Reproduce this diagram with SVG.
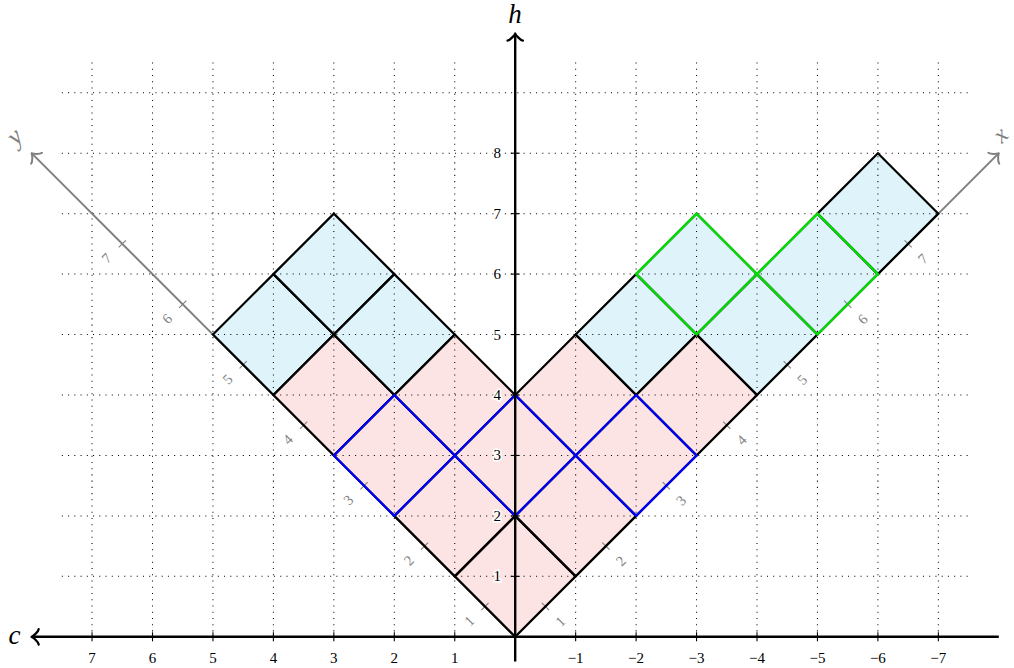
<svg xmlns="http://www.w3.org/2000/svg" width="1014" height="668" viewBox="0 0 1014 668">
<defs>
<style>
.grid line{stroke:#000;stroke-width:1.04;stroke-dasharray:1.04 5.2;fill:none}
.pink{fill:#FDE4E4;stroke:none}
.lblue{fill:#DFF3FA;stroke:none}
.edge polygon{fill:none;stroke:#000;stroke-width:2.2;stroke-linejoin:miter}
.blue polygon{fill:none;stroke:#0000FF;stroke-width:2.2;stroke-linejoin:miter}
.green polygon{fill:none;stroke:#00E400;stroke-width:2.2;stroke-linejoin:miter}
.axis{stroke:#000;stroke-width:2.4;fill:none}
.gaxis{stroke:#808080;stroke-width:2;fill:none}
.tick line{stroke:#000;stroke-width:1.1}
.gtick line{stroke:#808080;stroke-width:1.1}
.num{font-family:'Liberation Serif',serif;font-size:15px;fill:#000;text-anchor:middle}
.hnum{font-family:'Liberation Serif',serif;font-size:15px;fill:#000;text-anchor:end;stroke:#fff;stroke-width:3;paint-order:stroke fill}
.gnum{font-family:'Liberation Serif',serif;font-size:14.5px;fill:#808080;text-anchor:middle}
.lab{font-family:'Liberation Serif',serif;font-style:italic;font-size:27px;text-anchor:middle;fill:#000}
.glab{font-family:'Liberation Serif',serif;font-style:italic;font-size:26px;text-anchor:middle;fill:#808080}
</style>
<marker id="arrK" markerUnits="userSpaceOnUse" markerWidth="24" markerHeight="24" refX="-1" refY="0" orient="auto" overflow="visible">
<path d="M-7.1,-7.7 C-6.65,-4.75 -1.42,-0.48 0,0 C-1.42,0.48 -6.65,4.75 -7.1,7.7" fill="none" stroke="#000" stroke-width="2.3" stroke-linecap="round" stroke-linejoin="round"/>
</marker>
<marker id="arrG" markerUnits="userSpaceOnUse" markerWidth="24" markerHeight="24" refX="-1" refY="0" orient="auto" overflow="visible">
<path d="M-7.1,-7.7 C-6.65,-4.75 -1.42,-0.48 0,0 C-1.42,0.48 -6.65,4.75 -7.1,7.7" fill="none" stroke="#808080" stroke-width="2" stroke-linecap="round" stroke-linejoin="round"/>
</marker>
</defs>
<rect x="0" y="0" width="1014" height="668" fill="#fff"/>

<g id="fills">
<polygon class="pink" points="515.2,636.8 757,395 696.55,334.55 636.1,395 575.65,334.55 515.2,395 454.75,334.55 394.3,395 333.85,334.55 273.4,395"/>
<polygon class="lblue" points="212.95,334.55 273.4,395 333.85,334.55 394.3,395 454.75,334.55 394.3,274.1 333.85,213.65 273.4,274.1"/>
<polygon class="lblue" points="575.65,334.55 636.1,395 696.55,334.55 757,395 817.45,334.55 877.9,274.1 938.35,213.65 877.9,153.2 817.45,213.65 757,274.1 696.55,213.65 636.1,274.1"/>
</g>

<g id="grid" class="grid">
<line x1="92.05" y1="62.53" x2="92.05" y2="636.8"/>
<line x1="152.5" y1="62.53" x2="152.5" y2="636.8"/>
<line x1="212.95" y1="62.53" x2="212.95" y2="636.8"/>
<line x1="273.4" y1="62.53" x2="273.4" y2="636.8"/>
<line x1="333.85" y1="62.53" x2="333.85" y2="636.8"/>
<line x1="394.3" y1="62.53" x2="394.3" y2="636.8"/>
<line x1="454.75" y1="62.53" x2="454.75" y2="636.8"/>
<line x1="575.65" y1="62.53" x2="575.65" y2="636.8"/>
<line x1="636.1" y1="62.53" x2="636.1" y2="636.8"/>
<line x1="696.55" y1="62.53" x2="696.55" y2="636.8"/>
<line x1="757" y1="62.53" x2="757" y2="636.8"/>
<line x1="817.45" y1="62.53" x2="817.45" y2="636.8"/>
<line x1="877.9" y1="62.53" x2="877.9" y2="636.8"/>
<line x1="938.35" y1="62.53" x2="938.35" y2="636.8"/>
<line x1="61.83" y1="576.35" x2="968.58" y2="576.35"/>
<line x1="61.83" y1="515.9" x2="968.58" y2="515.9"/>
<line x1="61.83" y1="455.45" x2="968.58" y2="455.45"/>
<line x1="61.83" y1="395" x2="968.58" y2="395"/>
<line x1="61.83" y1="334.55" x2="968.58" y2="334.55"/>
<line x1="61.83" y1="274.1" x2="968.58" y2="274.1"/>
<line x1="61.83" y1="213.65" x2="968.58" y2="213.65"/>
<line x1="61.83" y1="153.2" x2="968.58" y2="153.2"/>
<line x1="61.83" y1="92.75" x2="968.58" y2="92.75"/>
</g>

<g id="diagonal-axes">
<line class="gaxis" x1="515.2" y1="636.8" x2="32.3" y2="153.9" marker-end="url(#arrG)"/>
<line class="gaxis" x1="515.2" y1="636.8" x2="998.1" y2="153.9" marker-end="url(#arrG)"/>
<g class="gtick">
<line x1="481.38" y1="610.18" x2="488.58" y2="602.98"/>
<line x1="420.93" y1="549.73" x2="428.13" y2="542.53"/>
<line x1="360.48" y1="489.28" x2="367.68" y2="482.08"/>
<line x1="300.03" y1="428.83" x2="307.23" y2="421.63"/>
<line x1="239.58" y1="368.38" x2="246.78" y2="361.18"/>
<line x1="179.13" y1="307.93" x2="186.33" y2="300.73"/>
<line x1="118.68" y1="247.48" x2="125.88" y2="240.28"/>
<line x1="541.83" y1="602.98" x2="549.03" y2="610.18"/>
<line x1="602.28" y1="542.53" x2="609.48" y2="549.73"/>
<line x1="662.73" y1="482.08" x2="669.93" y2="489.28"/>
<line x1="723.18" y1="421.63" x2="730.38" y2="428.83"/>
<line x1="783.63" y1="361.18" x2="790.83" y2="368.38"/>
<line x1="844.08" y1="300.73" x2="851.28" y2="307.93"/>
<line x1="904.53" y1="240.28" x2="911.73" y2="247.48"/>
</g>
<g class="gnum">
<text transform="translate(469.5,621.1) rotate(-45)" y="4.7">1</text>
<text transform="translate(409.0,560.6) rotate(-45)" y="4.7">2</text>
<text transform="translate(348.6,500.2) rotate(-45)" y="4.7">3</text>
<text transform="translate(288.1,439.7) rotate(-45)" y="4.7">4</text>
<text transform="translate(227.7,379.3) rotate(-45)" y="4.7">5</text>
<text transform="translate(167.2,318.8) rotate(-45)" y="4.7">6</text>
<text transform="translate(106.8,258.4) rotate(-45)" y="4.7">7</text>
<text transform="translate(560.4,621.6) rotate(-45)" y="4.7">1</text>
<text transform="translate(620.9,561.1) rotate(-45)" y="4.7">2</text>
<text transform="translate(681.3,500.7) rotate(-45)" y="4.7">3</text>
<text transform="translate(741.8,440.2) rotate(-45)" y="4.7">4</text>
<text transform="translate(802.2,379.8) rotate(-45)" y="4.7">5</text>
<text transform="translate(862.7,319.3) rotate(-45)" y="4.7">6</text>
<text transform="translate(923.1,258.9) rotate(-45)" y="4.7">7</text>
</g>
<text class="glab" transform="translate(17.5,139.5) rotate(-45)" y="4">y</text>
<text class="glab" transform="translate(1001.5,136) rotate(-45)" y="6" style="font-size:24px">x</text>
</g>

<g id="cells" class="edge">
<polygon points="454.75,576.35 515.2,515.9 575.65,576.35 515.2,636.8"/>
<polygon points="394.3,515.9 454.75,455.45 515.2,515.9 454.75,576.35"/>
<polygon points="515.2,515.9 575.65,455.45 636.1,515.9 575.65,576.35"/>
<polygon points="333.85,455.45 394.3,395 454.75,455.45 394.3,515.9"/>
<polygon points="454.75,455.45 515.2,395 575.65,455.45 515.2,515.9"/>
<polygon points="575.65,455.45 636.1,395 696.55,455.45 636.1,515.9"/>
<polygon points="273.4,395 333.85,334.55 394.3,395 333.85,455.45"/>
<polygon points="394.3,395 454.75,334.55 515.2,395 454.75,455.45"/>
<polygon points="515.2,395 575.65,334.55 636.1,395 575.65,455.45"/>
<polygon points="636.1,395 696.55,334.55 757,395 696.55,455.45"/>
<polygon points="212.95,334.55 273.4,274.1 333.85,334.55 273.4,395"/>
<polygon points="333.85,334.55 394.3,274.1 454.75,334.55 394.3,395"/>
<polygon points="273.4,274.1 333.85,213.65 394.3,274.1 333.85,334.55"/>
<polygon points="575.65,334.55 636.1,274.1 696.55,334.55 636.1,395"/>
<polygon points="696.55,334.55 757,274.1 817.45,334.55 757,395"/>
<polygon points="636.1,274.1 696.55,213.65 757,274.1 696.55,334.55"/>
<polygon points="757,274.1 817.45,213.65 877.9,274.1 817.45,334.55"/>
<polygon points="817.45,213.65 877.9,153.2 938.35,213.65 877.9,274.1"/>
</g>

<g id="blue-cells" class="blue">
<polygon points="333.85,455.45 394.3,395 454.75,455.45 394.3,515.9"/>
<polygon points="454.75,455.45 515.2,395 575.65,455.45 515.2,515.9"/>
<polygon points="575.65,455.45 636.1,395 696.55,455.45 636.1,515.9"/>
</g>

<g id="green-cells" class="green">
<polygon points="636.1,274.1 696.55,213.65 757,274.1 696.55,334.55"/>
<polygon points="757,274.1 817.45,213.65 877.9,274.1 817.45,334.55"/>
</g>

<g id="axes">
<line class="axis" x1="998.8" y1="636.8" x2="32.6" y2="636.8" marker-end="url(#arrK)"/>
<line class="axis" x1="515.2" y1="661.5" x2="515.2" y2="34.5" marker-end="url(#arrK)"/>
<g class="tick">
<line x1="92.05" y1="632.3" x2="92.05" y2="641.3"/>
<line x1="152.5" y1="632.3" x2="152.5" y2="641.3"/>
<line x1="212.95" y1="632.3" x2="212.95" y2="641.3"/>
<line x1="273.4" y1="632.3" x2="273.4" y2="641.3"/>
<line x1="333.85" y1="632.3" x2="333.85" y2="641.3"/>
<line x1="394.3" y1="632.3" x2="394.3" y2="641.3"/>
<line x1="454.75" y1="632.3" x2="454.75" y2="641.3"/>
<line x1="575.65" y1="632.3" x2="575.65" y2="641.3"/>
<line x1="636.1" y1="632.3" x2="636.1" y2="641.3"/>
<line x1="696.55" y1="632.3" x2="696.55" y2="641.3"/>
<line x1="757" y1="632.3" x2="757" y2="641.3"/>
<line x1="817.45" y1="632.3" x2="817.45" y2="641.3"/>
<line x1="877.9" y1="632.3" x2="877.9" y2="641.3"/>
<line x1="938.35" y1="632.3" x2="938.35" y2="641.3"/>
<line x1="510.7" y1="576.35" x2="519.7" y2="576.35"/>
<line x1="510.7" y1="515.9" x2="519.7" y2="515.9"/>
<line x1="510.7" y1="455.45" x2="519.7" y2="455.45"/>
<line x1="510.7" y1="395" x2="519.7" y2="395"/>
<line x1="510.7" y1="334.55" x2="519.7" y2="334.55"/>
<line x1="510.7" y1="274.1" x2="519.7" y2="274.1"/>
<line x1="510.7" y1="213.65" x2="519.7" y2="213.65"/>
<line x1="510.7" y1="153.2" x2="519.7" y2="153.2"/>
</g>
<g class="num">
<text x="92.05" y="662.5">7</text>
<text x="152.5" y="662.5">6</text>
<text x="212.95" y="662.5">5</text>
<text x="273.4" y="662.5">4</text>
<text x="333.85" y="662.5">3</text>
<text x="394.3" y="662.5">2</text>
<text x="454.75" y="662.5">1</text>
<text x="575.65" y="662.5">−1</text>
<text x="636.1" y="662.5">−2</text>
<text x="696.55" y="662.5">−3</text>
<text x="757" y="662.5">−4</text>
<text x="817.45" y="662.5">−5</text>
<text x="877.9" y="662.5">−6</text>
<text x="938.35" y="662.5">−7</text>
</g>
<g class="hnum">
<text x="501" y="581.35">1</text>
<text x="501" y="520.9">2</text>
<text x="501" y="460.45">3</text>
<text x="501" y="400">4</text>
<text x="501" y="339.55">5</text>
<text x="501" y="279.1">6</text>
<text x="501" y="218.65">7</text>
<text x="501" y="158.2">8</text>
</g>
<text class="lab" x="515" y="22.5">h</text>
<text class="lab" x="14.5" y="644">c</text>
</g>
</svg>
